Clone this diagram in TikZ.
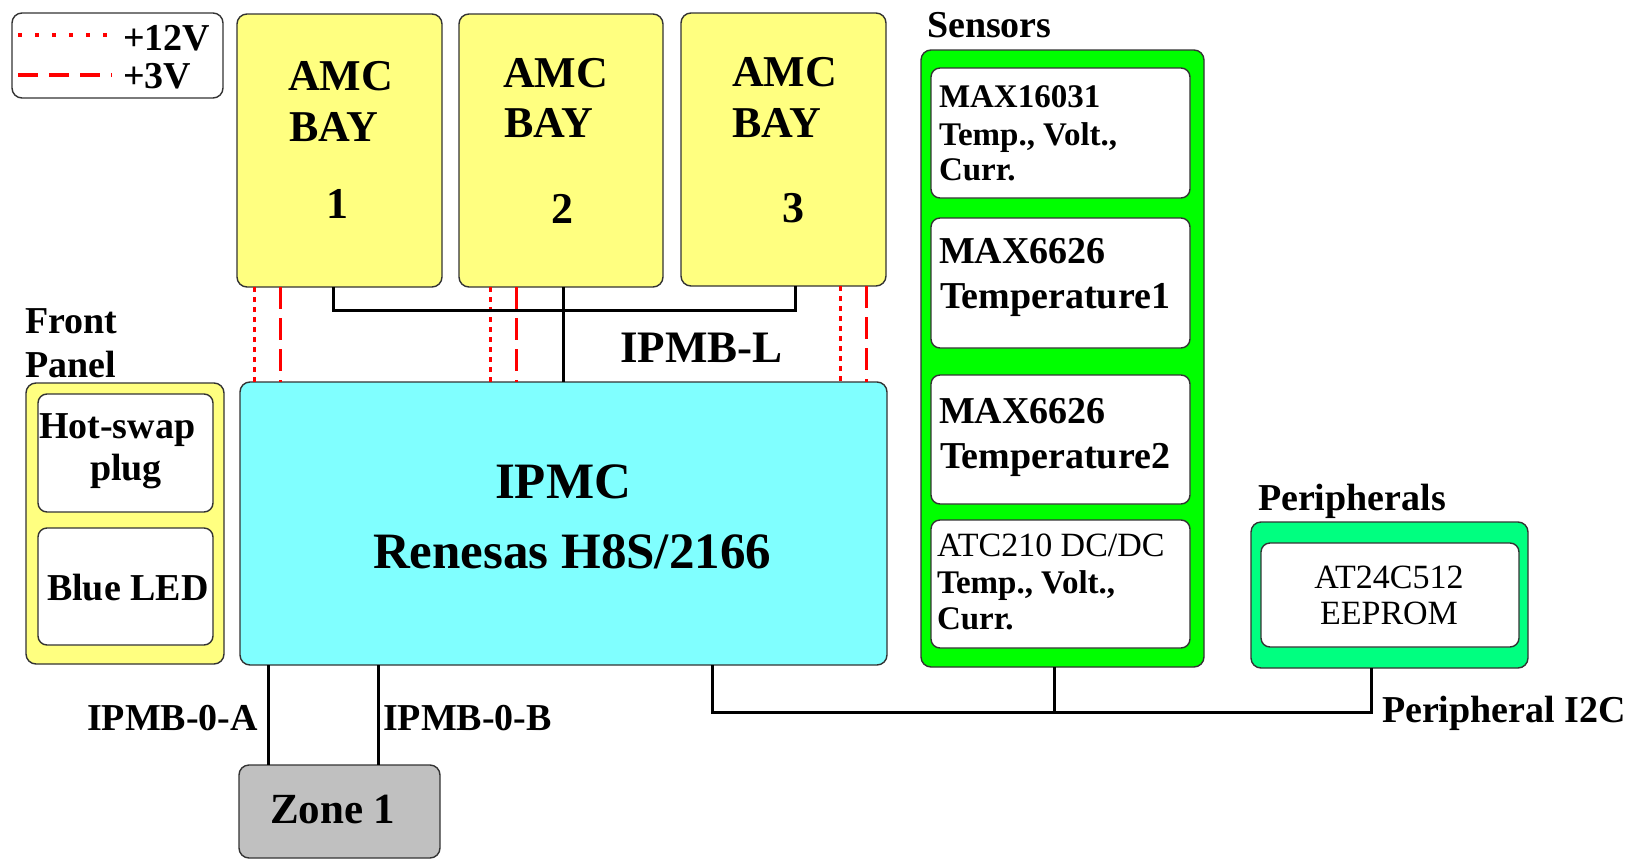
\documentclass[tikz,border=0pt]{standalone}
\usepackage{fontspec}
\setmainfont{Liberation Serif}
\newcommand\fsz[1]{\fontsize{#1}{#1}\selectfont}
\definecolor{edge}{HTML}{333333}
\definecolor{bayY}{HTML}{FFFF80}
\definecolor{ipmcC}{HTML}{80FFFF}
\definecolor{sensG}{HTML}{00FF00}
\definecolor{perG}{HTML}{00FF80}
\definecolor{zoneG}{HTML}{C0C0C0}
\begin{document}
\begin{tikzpicture}[x=1pt,y=-1pt,
  bx/.style={draw=edge, line width=1.4pt, rounded corners=10pt, inner sep=0pt, outer sep=0pt},
  tb/.style={anchor=base west, inner sep=0pt, outer sep=0pt, font=\bfseries\fsz{#1}},
  tr/.style={anchor=base west, inner sep=0pt, outer sep=0pt, font=\fsz{#1}},
  tbc/.style={anchor=base, inner sep=0pt, outer sep=0pt, font=\bfseries\fsz{#1}},
  trc/.style={anchor=base, inner sep=0pt, outer sep=0pt, font=\fsz{#1}},
  bus/.style={draw=black, line width=3pt},
  vtwelve/.style={draw=red, line width=3pt, dash pattern=on 5pt off 5pt},
  vthree/.style={draw=red, line width=3pt, dash pattern=on 22pt off 9pt},
  ltwelve/.style={draw=red, line width=3.5pt, dash pattern=on 4pt off 13pt},
  lthree/.style={draw=red, line width=3.5pt, dash pattern=on 20pt off 11pt}]
\useasboundingbox (0,0) rectangle (1634,860);

% ---------- legend ----------
\node[bx, fill=white, minimum width=211pt, minimum height=85pt] (legend) at (117.5,55.5) {};
\coordinate (l1a) at (18,35); \coordinate (l1b) at (112,35);
\coordinate (l2a) at (18,75); \coordinate (l2b) at (112,75);
\draw[ltwelve] (l1a) -- (l1b);
\draw[lthree] (l2a) -- (l2b);
\node[tb=38] (t12v) at (123,50) {+12V};
\node[tb=38] (t3v) at (123,88) {+3V};

% ---------- AMC bays ----------
\node[bx, fill=bayY, minimum width=205pt, minimum height=273pt] (bay1) at (339.5,150.5) {};
\node[bx, fill=bayY, minimum width=204pt, minimum height=273pt] (bay2) at (561,150.5) {};
\node[bx, fill=bayY, minimum width=205pt, minimum height=273pt] (bay3) at (783.5,149.5) {};
\node[tb=44] (amc1) at (288,90) {AMC};
\node[tb=44] (bayt1) at (289,141) {BAY};
\node[tbc=44] (n1) at (337,218) {1};
\node[tb=44] (amc2) at (503,87) {AMC};
\node[tb=44] (bayt2) at (504,137) {BAY};
\node[tbc=44] (n2) at (562,223) {2};
\node[tb=44] (amc3) at (732,86) {AMC};
\node[tb=44] (bayt3) at (732,137) {BAY};
\node[tbc=44] (n3) at (793,222) {3};

% ---------- IPMC ----------
\node[bx, fill=ipmcC, minimum width=647pt, minimum height=283pt] (ipmc) at (563.5,523.5) {};
\node[tb=51] (ipmct) at (495,498) {IPMC};
\node[tb=51] (rent) at (373,568) {Renesas H8S/2166};

% ---------- power lines ----------
\draw[vtwelve] ([xshift=17pt]bay1.south west) -- ([xshift=17pt]bay1.south west |- ipmc.north);
\draw[vthree]  ([xshift=43pt]bay1.south west) -- ([xshift=43pt]bay1.south west |- ipmc.north);
\draw[vtwelve] ([xshift=31pt]bay2.south west) -- ([xshift=31pt]bay2.south west |- ipmc.north);
\draw[vthree]  ([xshift=57pt]bay2.south west) -- ([xshift=57pt]bay2.south west |- ipmc.north);
\draw[vtwelve] ([xshift=-46pt]bay3.south east) -- ([xshift=-46pt]bay3.south east |- ipmc.north);
\draw[vthree]  ([xshift=-20pt]bay3.south east) -- ([xshift=-20pt]bay3.south east |- ipmc.north);

% ---------- IPMB-L ----------
\draw[bus] ([xshift=-6.5pt]bay1.south) -- ++(0,23) -| ([xshift=11.5pt]bay3.south);
\draw[bus] ([xshift=2pt]bay2.south) -- ([xshift=2pt]bay2.south |- ipmc.north);
\node[tb=45] (ipmbl) at (620,362) {IPMB-L};

% ---------- Front panel ----------
\node[tb=38] (front) at (25,333) {Front};
\node[tb=38] (panel) at (25,377) {Panel};
\node[bx, fill=bayY, minimum width=198pt, minimum height=281pt] (fp) at (125,523.5) {};
\node[bx, fill=white, rounded corners=9pt, minimum width=175pt, minimum height=118pt] (hot) at (125.5,453) {};
\node[bx, fill=white, rounded corners=9pt, minimum width=175pt, minimum height=117pt] (led) at (125.5,586.5) {};
\node[tb=38] (hott) at (39,438) {Hot-swap};
\node[tbc=38] (plugt) at (126,480) {plug};
\node[tb=38] (ledt) at (47,600) {Blue LED};

% ---------- Zone 1 ----------
\node[bx, fill=zoneG, minimum width=201pt, minimum height=93pt] (zone) at (339.5,811.5) {};
\node[tb=43] (zonet) at (270,823) {Zone 1};
\draw[bus] ([xshift=28pt]ipmc.south west) -- ([xshift=28pt]ipmc.south west |- zone.north);
\draw[bus] ([xshift=138pt]ipmc.south west) -- ([xshift=138pt]ipmc.south west |- zone.north);
\node[tb=38] (ipmba) at (87,730) {IPMB-0-A};
\node[tb=38] (ipmbb) at (383,730) {IPMB-0-B};

% ---------- Sensors ----------
\node[tb=38] (senst) at (927,37) {Sensors};
\node[bx, fill=sensG, minimum width=283pt, minimum height=617pt] (sens) at (1062.5,358.5) {};
\node[bx, fill=white, rounded corners=9pt, minimum width=259pt, minimum height=130pt] (s1) at (1060.5,133) {};
\node[bx, fill=white, rounded corners=9pt, minimum width=259pt, minimum height=130pt] (s2) at (1060.5,283) {};
\node[bx, fill=white, rounded corners=9pt, minimum width=259pt, minimum height=129pt] (s3) at (1060.5,439.5) {};
\node[bx, fill=white, rounded corners=9pt, minimum width=259pt, minimum height=128pt] (s4) at (1060.5,584) {};
\node[tb=33] (s1a) at (939,107) {MAX16031};
\node[tb=33] (s1b) at (939,145) {Temp., Volt.,};
\node[tb=33] (s1c) at (939,180) {Curr.};
\node[tb=38] (s2a) at (939,263) {MAX6626};
\node[tb=38] (s2b) at (940,308) {Temperature1};
\node[tb=38] (s3a) at (939,423) {MAX6626};
\node[tb=38] (s3b) at (940,468) {Temperature2};
\node[tr=34] (s4a) at (937,556) {ATC210 DC/DC};
\node[tb=33] (s4b) at (937,593) {Temp., Volt.,};
\node[tb=33] (s4c) at (937,629) {Curr.};

% ---------- Peripherals ----------
\node[tb=38] (pert) at (1258,510) {Peripherals};
\node[bx, fill=perG, minimum width=277pt, minimum height=146pt] (per) at (1389.5,595) {};
\node[bx, fill=white, rounded corners=9pt, minimum width=258pt, minimum height=104pt] (eep) at (1390,595) {};
\node[trc=34] (eepa) at (1389,588) {AT24C512};
\node[trc=34] (eepb) at (1389,624) {EEPROM};

% ---------- Peripheral I2C ----------
\coordinate (i2cL) at (712,712);
\coordinate (i2cR) at (1371,712);
\coordinate (i2cS) at (1054,712);
\draw[bus] (i2cL |- ipmc.south) -- (i2cL) -- (i2cR) -- (i2cR |- per.south);
\draw[bus] (i2cS |- sens.south) -- (i2cS);
\node[tb=38] (i2ct) at (1382,722) {Peripheral I2C};
\end{tikzpicture}
\end{document}
